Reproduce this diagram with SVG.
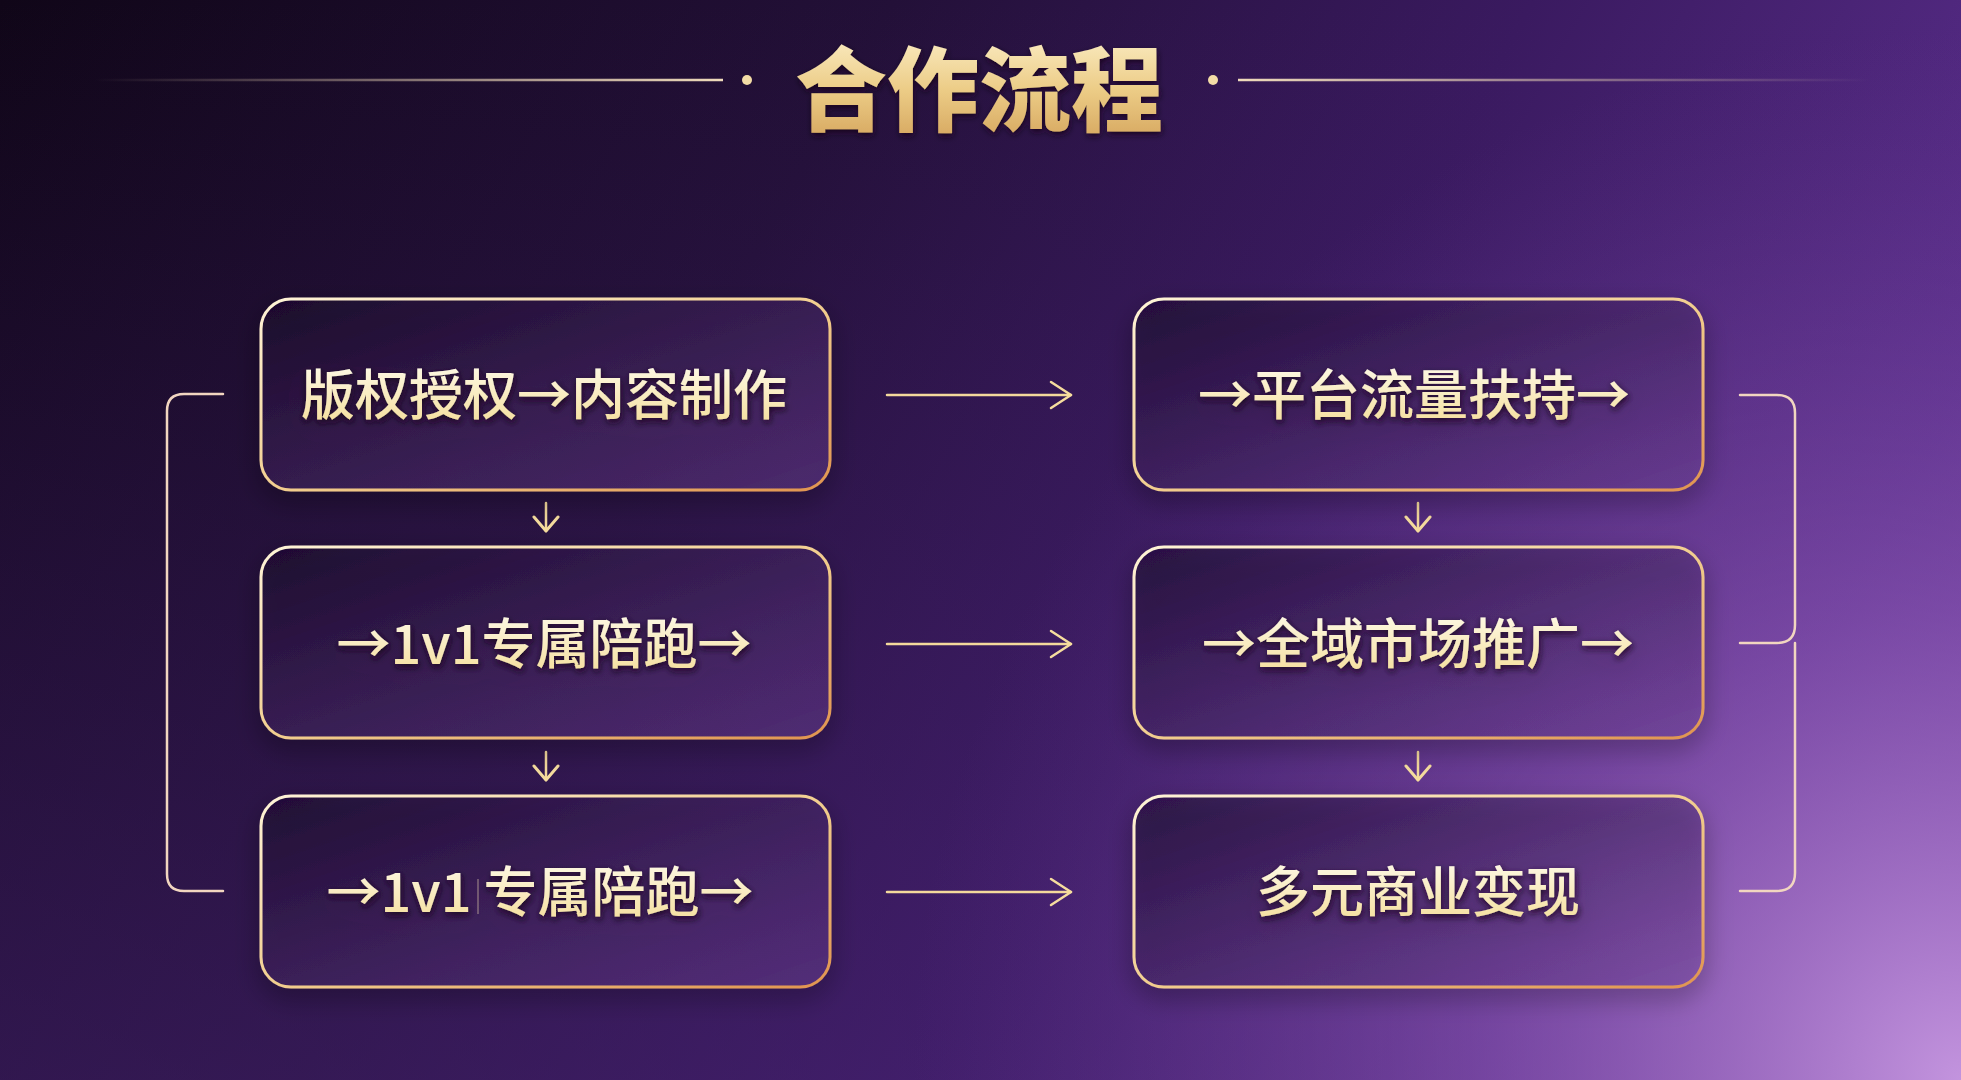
<svg xmlns="http://www.w3.org/2000/svg" width="1961" height="1080" viewBox="0 0 1961 1080">
<defs>
<linearGradient id="bg" gradientUnits="userSpaceOnUse" x1="0" y1="0" x2="1961" y2="1080">
<stop offset="0" stop-color="#100618"/>
<stop offset="0.35" stop-color="#231038"/>
<stop offset="0.6" stop-color="#3a1a60"/>
<stop offset="0.85" stop-color="#5a2e8c"/>
<stop offset="1" stop-color="#7645a6"/>
</linearGradient>
<linearGradient id="bgv" x1="0" y1="0" x2="0" y2="1">
<stop offset="0" stop-color="#3c1c62" stop-opacity="0"/>
<stop offset="1" stop-color="#4a2478" stop-opacity="0.45"/>
</linearGradient>
<radialGradient id="glow" gradientUnits="userSpaceOnUse" cx="1961" cy="1080" r="1050">
<stop offset="0" stop-color="#c899e2" stop-opacity="0.95"/>
<stop offset="0.45" stop-color="#9a63c2" stop-opacity="0.5"/>
<stop offset="1" stop-color="#6a3a98" stop-opacity="0"/>
</radialGradient>
<linearGradient id="boxFill" x1="0" y1="0" x2="1" y2="1">
<stop offset="0" stop-color="#1a0a2c" stop-opacity="0.5"/>
<stop offset="1" stop-color="#7c4aa8" stop-opacity="0.35"/>
</linearGradient>
<linearGradient id="boxStroke" x1="0" y1="0" x2="1" y2="1">
<stop offset="0" stop-color="#fff4d8"/>
<stop offset="0.5" stop-color="#f2cf90"/>
<stop offset="1" stop-color="#e0944f"/>
</linearGradient>
<linearGradient id="txt" x1="0" y1="0" x2="0" y2="1">
<stop offset="0" stop-color="#fffef4"/>
<stop offset="1" stop-color="#f4dc96"/>
</linearGradient>
<linearGradient id="title" x1="0" y1="0" x2="0" y2="1">
<stop offset="0" stop-color="#fff6d6"/>
<stop offset="0.55" stop-color="#eccc86"/>
<stop offset="1" stop-color="#d2a058"/>
</linearGradient>
<linearGradient id="lineL" gradientUnits="userSpaceOnUse" x1="94" y1="0" x2="723" y2="0">
<stop offset="0" stop-color="#e8d2b4" stop-opacity="0"/>
<stop offset="1" stop-color="#f0dcbc"/>
</linearGradient>
<linearGradient id="lineR" gradientUnits="userSpaceOnUse" x1="1238" y1="0" x2="1870" y2="0">
<stop offset="0" stop-color="#f0dcbc"/>
<stop offset="1" stop-color="#e8d2b4" stop-opacity="0"/>
</linearGradient>
<filter id="shadow" x="-20%" y="-20%" width="140%" height="150%">
<feDropShadow dx="0" dy="10" stdDeviation="12" flood-color="#0a0412" flood-opacity="0.55"/>
</filter>
<filter id="tshadow" x="-10%" y="-30%" width="120%" height="160%">
<feDropShadow dx="1" dy="3" stdDeviation="3" flood-color="#12061e" flood-opacity="0.8"/>
</filter>
<marker id="arrH" markerUnits="userSpaceOnUse" markerWidth="24" markerHeight="30" viewBox="0 0 24 30" refX="22" refY="15" orient="auto">
<path d="M2,2 L22,15 L2,28" fill="none" stroke="#f6dd9e" stroke-width="2.5" stroke-linecap="round" stroke-linejoin="round"/>
</marker>
<marker id="arrV" markerUnits="userSpaceOnUse" markerWidth="18" markerHeight="28" viewBox="0 0 18 28" refX="16" refY="14" orient="auto">
<path d="M2,2 L16,14 L2,26" fill="none" stroke="#f6dd9e" stroke-width="3" stroke-linecap="round" stroke-linejoin="round"/>
</marker>
<style>
.box{fill:url(#boxFill);stroke:url(#boxStroke);stroke-width:3;}
.label{font-family:"Noto Sans CJK SC","Noto Sans",sans-serif;font-weight:500;font-size:54px;fill:url(#txt);text-anchor:middle;}
.arrow{fill:none;stroke:#f4d99c;stroke-width:2.5;stroke-linecap:round;}
.bracket{fill:none;stroke:#f2d6c0;stroke-width:2.5;stroke-linecap:round;}
</style>
</defs>

<rect width="1961" height="1080" fill="url(#bg)"/>
<rect width="1961" height="1080" fill="url(#bgv)"/>
<rect width="1961" height="1080" fill="url(#glow)"/>

<g id="title-group">
<line x1="94" y1="80" x2="723" y2="80" stroke="url(#lineL)" stroke-width="2.5"/>
<line x1="1238" y1="80" x2="1870" y2="80" stroke="url(#lineR)" stroke-width="2.5"/>
<circle cx="747" cy="80" r="5" fill="#f3dca6"/>
<circle cx="1213" cy="80" r="5" fill="#f3dca6"/>
<text x="979" y="124" font-family="'Noto Sans CJK SC','Noto Sans',sans-serif" font-weight="900" font-size="92" fill="url(#title)" text-anchor="middle" filter="url(#tshadow)">合作流程</text>
</g>

<g id="connectors">
<line class="arrow" x1="887" y1="395" x2="1071" y2="395" marker-end="url(#arrH)"/>
<line class="arrow" x1="887" y1="644" x2="1071" y2="644" marker-end="url(#arrH)"/>
<line class="arrow" x1="887" y1="892" x2="1071" y2="892" marker-end="url(#arrH)"/>
<line class="arrow" x1="546" y1="503" x2="546" y2="531" marker-end="url(#arrV)"/>
<line class="arrow" x1="546" y1="752" x2="546" y2="780" marker-end="url(#arrV)"/>
<line class="arrow" x1="1418" y1="503" x2="1418" y2="531" marker-end="url(#arrV)"/>
<line class="arrow" x1="1418" y1="752" x2="1418" y2="780" marker-end="url(#arrV)"/>
<path class="bracket" d="M223,394 H184 Q167,394 167,411 V874 Q167,891 184,891 H223"/>
<path class="bracket" d="M1740,395 H1777 Q1795,395 1795,413 V625 Q1795,643 1777,643 H1740"/>
<path class="bracket" d="M1795,643 V873 Q1795,891 1777,891 H1740"/>
</g>

<g id="node-1" filter="url(#shadow)">
<rect class="box" x="261" y="299" width="569" height="191" rx="30"/>
<text class="label" x="544" y="415" filter="url(#tshadow)">版权授权→内容制作</text>
</g>
<g id="node-2" filter="url(#shadow)">
<rect class="box" x="261" y="547" width="569" height="191" rx="30"/>
<text class="label" x="544" y="664" filter="url(#tshadow)">→1v1专属陪跑→</text>
</g>
<g id="node-3" filter="url(#shadow)">
<rect class="box" x="261" y="796" width="569" height="191" rx="30"/>
<text class="label" x="540" y="912" filter="url(#tshadow)">→1v1 专属陪跑→</text>
<line x1="478" y1="879" x2="478" y2="914" stroke="#d8c4a8" stroke-width="1.2" stroke-opacity="0.55"/>
</g>
<g id="node-4" filter="url(#shadow)">
<rect class="box" x="1134" y="299" width="569" height="191" rx="30"/>
<text class="label" x="1414" y="415" filter="url(#tshadow)">→平台流量扶持→</text>
</g>
<g id="node-5" filter="url(#shadow)">
<rect class="box" x="1134" y="547" width="569" height="191" rx="30"/>
<text class="label" x="1418" y="664" filter="url(#tshadow)">→全域市场推广→</text>
</g>
<g id="node-6" filter="url(#shadow)">
<rect class="box" x="1134" y="796" width="569" height="191" rx="30"/>
<text class="label" x="1418" y="912" filter="url(#tshadow)">多元商业变现</text>
</g>
</svg>
